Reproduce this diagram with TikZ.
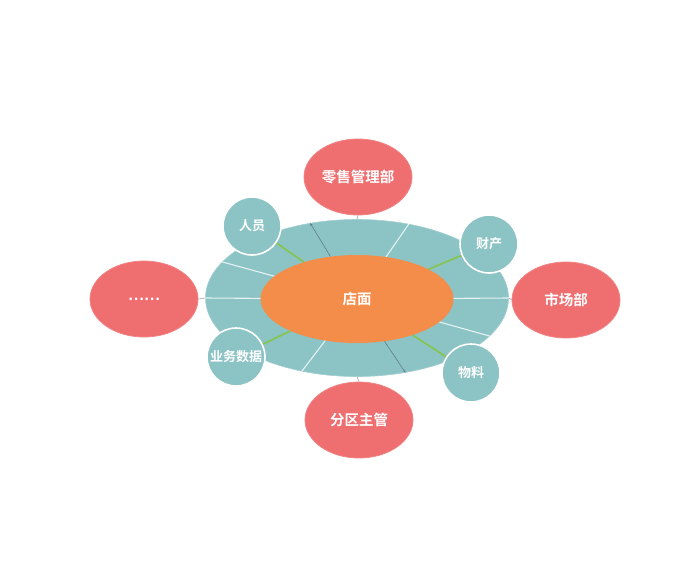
\documentclass[tikz,border=0pt]{standalone}
\usepackage{fontspec}
\newfontfamily\cjk{Noto Sans CJK SC}[BoldFont={Noto Sans CJK SC Bold}]
\usetikzlibrary{shapes.geometric,arrows.meta}
\pgfdeclarelayer{back}
\pgfdeclarelayer{mid}
\pgfsetlayers{back,mid,main}
\definecolor{ringc}{HTML}{8CC3C5}
\definecolor{corec}{HTML}{F58D4A}
\definecolor{redc}{HTML}{EF6E70}
\definecolor{greenc}{HTML}{86C44A}
\definecolor{spokec}{HTML}{E4F2F2}
\definecolor{darkc}{HTML}{5E7F88}
\tikzset{
  redell/.style={ellipse, fill=redc, draw=redc!85!white, line width=0.8pt, minimum width=108pt, minimum height=76pt, inner sep=0pt, text=white, font=\cjk\bfseries\fontsize{14.5}{16}\selectfont},
  smallc/.style={circle, fill=ringc, draw=white, line width=1.6pt, minimum size=58pt, inner sep=0pt, text=white, font=\cjk\bfseries\fontsize{13}{14}\selectfont},
  spoke/.style={draw=spokec, line width=1.1pt},
  darkspoke/.style={draw=darkc, line width=0.6pt, -{Stealth[length=3pt,width=2.5pt]}},
  greenl/.style={draw=greenc, line width=1.6pt},
  conn/.style={draw=gray!70, line width=0.6pt}
}
\begin{document}
\begin{tikzpicture}[x=1pt,y=-1pt]
\begin{pgfonlayer}{back}
\fill[white] (0,0) rectangle (679,560);
% ring
\node[ellipse, fill=ringc, draw=ringc!80!white, line width=0.6pt, minimum width=303pt, minimum height=157pt, inner sep=0pt] (ring) at (357,298) {};
\coordinate (ctr) at (357,299);
% spokes
\draw[spoke] (ctr) -- (ring.55);
\draw[spoke] (ctr) -- (ring.165);
\draw[spoke] (ctr) -- (ring.-16);
\draw[spoke] (ctr) -- (ring.233);
\draw[spoke] (ctr) -- (ring.0);
\draw[spoke] (ctr) -- (ring.180);
% core
\node[ellipse, fill=corec, minimum width=193pt, minimum height=88pt, inner sep=0pt, text=white, font=\cjk\bfseries\fontsize{14.5}{16}\selectfont] (core) at (ctr) {店面};
\draw[darkspoke] (core.122) -- (ring.122);
\draw[darkspoke] (core.-57) -- (ring.-57);
\end{pgfonlayer}
\useasboundingbox (0,0) rectangle (679,560);
% red ellipses
\node[redell] (top) at (358,177) {零售管理部};
\node[redell] (bot) at (359,420) {分区主管};
\node[redell] (left) at (144,299) {……};
\node[redell] (right) at (566,300) {市场部};
\draw[conn] (ring.north) -- (top.south);
\draw[conn] (ring.south) -- (bot.north);
\draw[conn] (ring.west) -- (left.east);
\draw[conn] (ring.east) -- (right.west);
% small circles
\node[smallc] (ry) at (252,226) {人员};
\node[smallc] (cc) at (489,244) {财产};
\node[smallc] (yw) at (236,357) {业务数据};
\node[smallc] (wl) at (471,373) {物料};
\begin{pgfonlayer}{mid}
\draw[greenl] (core) -- (ry);
\draw[greenl] (core) -- (cc);
\draw[greenl] (core) -- (yw);
\draw[greenl] (core) -- (wl);
\end{pgfonlayer}
\end{tikzpicture}
\end{document}
